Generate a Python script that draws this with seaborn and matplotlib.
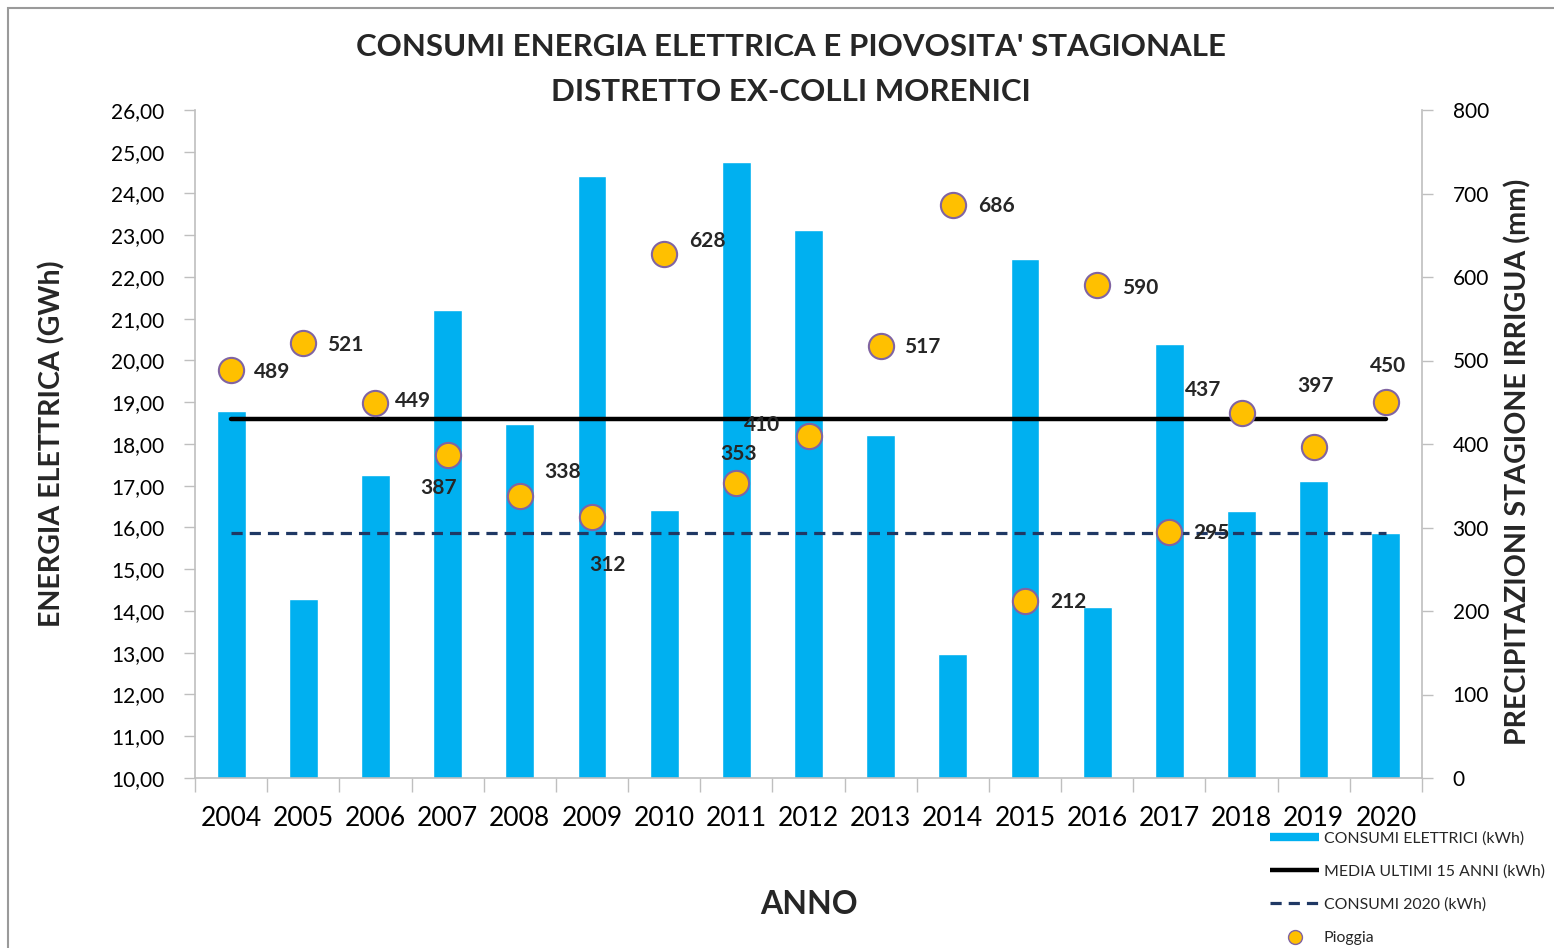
"""
Consumi energia elettrica e piovosità stagionale - distretto ex-Colli Morenici
"""

import numpy as np
import pandas as pd
import matplotlib
matplotlib.use('Agg')
import matplotlib.pyplot as plt
import seaborn as sns
from matplotlib.lines import Line2D
from matplotlib.patches import Rectangle
from matplotlib.ticker import FuncFormatter, FixedLocator

# dati
anni = ['2004', '2005', '2006', '2007', '2008', '2009', '2010', '2011', '2012',
        '2013', '2014', '2015', '2016', '2017', '2018', '2019', '2020']
consumi_gwh = [18.79, 14.29, 17.26, 21.21, 18.48, 24.42, 16.42, 24.75, 23.13,
               18.22, 12.97, 22.43, 14.10, 20.40, 16.40, 17.12, 15.87]
pioggia_mm = [489, 521, 449, 387, 338, 312, 628, 353, 410,
              517, 686, 212, 590, 295, 437, 397, 450]
media_15_anni = 18.60
consumi_2020 = 15.87

# spostamento etichette pioggia (pixel)
offset_etichette = [(41, -2), (42, -2), (38, 2), (-9, -33), (43, 24), (16, -48),
                    (43, 13), (2, 29), (-46, 11), (42, -1), (44, -1), (43, -1),
                    (43, -3), (42, -1), (-38, 23), (2, 61), (2, 36)]

sns.set_theme(style='white')
plt.rcParams['font.family'] = ['Lato', 'DejaVu Sans']

BLU = '#00B0F0'
ORO = '#FFC000'
VIOLA = '#8064A2'
NAVY = '#1F3864'
GRIGIO = '#BFBFBF'
TRATTEGGIO = (3.5, 2.2)

df = pd.DataFrame({'anno': anni, 'consumi': consumi_gwh, 'pioggia': pioggia_mm})
df['pos'] = np.arange(len(anni))

fig = plt.figure(figsize=(15.54, 9.48), dpi=100)
ax = fig.add_axes([195 / 1554, 1 - 778 / 948, (1422 - 195) / 1554, (778 - 110) / 948])

sns.barplot(data=df, x='anno', y='consumi', color=BLU, saturation=1, width=0.4, ax=ax)
sns.lineplot(x=df['pos'], y=[media_15_anni] * len(anni), color='black', linewidth=3.2, ax=ax)
sns.lineplot(x=df['pos'], y=[consumi_2020] * len(anni), color=NAVY, linewidth=2.3,
             ax=ax).lines[-1].set_dashes(TRATTEGGIO)

ax.set_ylim(10, 26)
ax.set_xlim(-0.5, len(anni) - 0.5)
ax.set_yticks(np.arange(10, 27, 1))
ax.yaxis.set_major_formatter(FuncFormatter(lambda v, p: f'{v:.2f}'.replace('.', ',')))
ax.xaxis.set_minor_locator(FixedLocator(np.arange(-0.5, len(anni), 1)))
ax.tick_params(axis='x', which='major', length=0, pad=20, labelsize=19, colors='black')
ax.tick_params(axis='x', which='minor', length=10, width=1, color=GRIGIO, bottom=True)
ax.tick_params(axis='y', length=8, width=1, color=GRIGIO, left=True, pad=14,
               labelsize=15, colors='black')
ax.set_xlabel('ANNO', fontsize=23, fontweight='bold', labelpad=43)
ax.set_ylabel('ENERGIA ELETTRICA (GWh)', fontsize=20.6, fontweight='bold', labelpad=33)
for lato in ['top', 'right']:
    ax.spines[lato].set_visible(False)
for lato in ['left', 'bottom']:
    ax.spines[lato].set_color(GRIGIO)
    ax.spines[lato].set_linewidth(1.2)
ax.grid(False)

# asse pioggia
ax2 = ax.twinx()
sns.scatterplot(x=df['pos'], y=df['pioggia'], color=ORO, edgecolor=VIOLA, linewidth=1.5,
                s=330, ax=ax2, zorder=5)
ax2.set_ylim(0, 800)
ax2.set_yticks(np.arange(0, 801, 100))
ax2.tick_params(axis='y', length=8, width=1, color=GRIGIO, right=True, pad=14,
                labelsize=15, colors='black')
ax2.set_ylabel('PRECIPITAZIONI STAGIONE IRRIGUA (mm)', fontsize=20.6, fontweight='bold',
               labelpad=11)
ax2.yaxis.label.set_y(0.473)
for lato in ['top', 'left', 'bottom']:
    ax2.spines[lato].set_visible(False)
ax2.spines['right'].set_color(GRIGIO)
ax2.spines['right'].set_linewidth(1.2)
ax2.grid(False)

for i, (v, off) in enumerate(zip(pioggia_mm, offset_etichette)):
    ax2.annotate(str(v), (i, v), xytext=off, textcoords='offset pixels',
                 ha='center', va='center', fontsize=15, fontweight='bold', zorder=6)

fig.text(791 / 1554, 1 - 47 / 948, "CONSUMI ENERGIA ELETTRICA E PIOVOSITA' STAGIONALE",
         ha='center', va='center', fontsize=22.5, fontweight='bold')
fig.text(791 / 1554, 1 - 92 / 948, 'DISTRETTO EX-COLLI MORENICI',
         ha='center', va='center', fontsize=22.5, fontweight='bold')

handles = [
    Line2D([0], [0], color=BLU, linewidth=6, solid_capstyle='butt'),
    Line2D([0], [0], color='black', linewidth=3.2, solid_capstyle='butt'),
    Line2D([0], [0], color=NAVY, linewidth=2.3, dashes=TRATTEGGIO),
    Line2D([0], [0], color=ORO, marker='o', markersize=10, markeredgecolor=VIOLA,
           linestyle='none'),
]
etichette = ['CONSUMI ELETTRICI (kWh)', 'MEDIA ULTIMI 15 ANNI (kWh)',
             'CONSUMI 2020 (kWh)', 'Pioggia']
fig.legend(handles, etichette, loc='upper left', bbox_to_anchor=(1270 / 1554, 1 - 831 / 948),
           frameon=False, fontsize=11.4, handlelength=3.1, handletextpad=0.3,
           labelspacing=1.2, borderaxespad=0, borderpad=0)

# cornice
fig.patches.append(Rectangle((8 / 1554, -0.1), 1.2, 1.1 - 8 / 948, transform=fig.transFigure,
                             fill=False, edgecolor='#9A9A9A', linewidth=1.5))

fig.savefig('out.png', dpi=100)
